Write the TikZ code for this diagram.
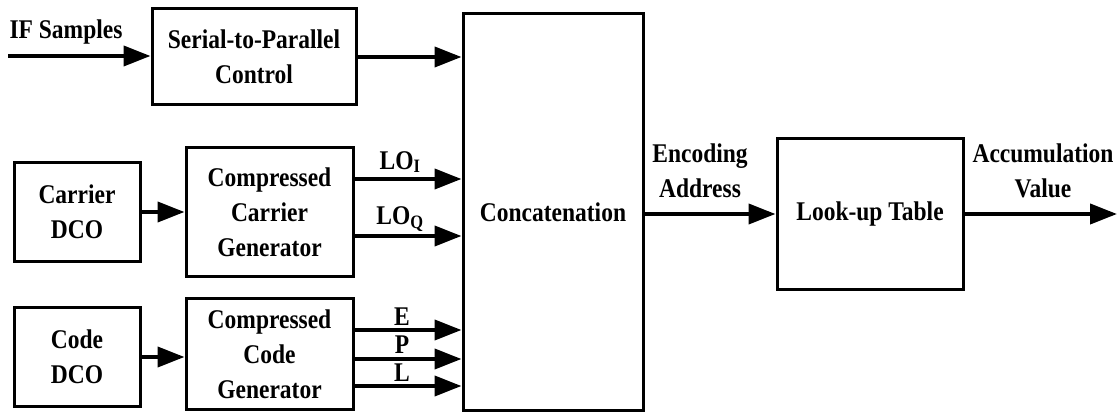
\documentclass[tikz,border=0pt]{standalone}
\usepackage{fontspec}
\setmainfont{Liberation Serif}[FakeStretch=0.87]
\usetikzlibrary{arrows.meta,positioning,calc}

\begin{document}
\begin{tikzpicture}[
  x=1pt, y=-1pt,
  font=\fontsize{27}{35}\selectfont\bfseries,
  blk/.style={
    draw=black,
    line width=3pt,
    align=center,
    inner sep=0pt
  },
  arr/.style={
    -{Triangle[length=27pt,width=20pt]},
    line width=4pt,
    draw=black
  },
  lbl/.style={
    align=center,
    inner sep=0pt
  }
]
\useasboundingbox (0,0) rectangle (1118,419);

% --- Blocks ---
\node[blk, minimum width=204pt, minimum height=96pt] (sp) at (254,57) {Serial-to-Parallel\\Control};
\node[blk, minimum width=180pt, minimum height=396pt] (concat) at (553,212) {Concatenation};
\node[blk, minimum width=186pt, minimum height=151pt] (lut) at (870,214) {Look-up Table};

\node[blk, minimum width=126pt, minimum height=99pt] (cdco) at (77,212) {Carrier\\DCO};
\node[blk, minimum width=167pt, minimum height=129pt] (ccg) at (269.5,212) {Compressed\\Carrier\\Generator};

\node[blk, minimum width=126pt, minimum height=98pt] (kdco) at (77,357) {Code\\DCO};
\node[blk, minimum width=167pt, minimum height=110pt] (kcg) at (269.5,354) {Compressed\\Code\\Generator};

% --- Input path ---
\coordinate (ifin) at (8,56);
\draw[arr] (ifin) -- (ifin -| sp.west);
\node[lbl] (iflbl) at (66,32) {IF Samples};
\draw[arr] (sp.east) -- (sp.east -| concat.west);

% --- Carrier path ---
\draw[arr] (cdco.east) -- (ccg.west);
\draw[arr] ([yshift=33pt]ccg.east) coordinate (loi) -- (loi -| concat.west);
\draw[arr] ([yshift=-24pt]ccg.east) coordinate (loq) -- (loq -| concat.west);
\node[lbl] (loilbl) at (400,162) {LO\textsubscript{I}};
\node[lbl] (loqlbl) at (400,219) {LO\textsubscript{Q}};

% --- Code path ---
\draw[arr] (kdco.east) -- (kdco.east -| kcg.west);
\draw[arr] ([yshift=24pt]kcg.east) coordinate (ce) -- (ce -| concat.west);
\draw[arr] ([yshift=-5pt]kcg.east) coordinate (cp) -- (cp -| concat.west);
\draw[arr] ([yshift=-32pt]kcg.east) coordinate (cl) -- (cl -| concat.west);
\node[lbl] (elbl) at (402,317) {E};
\node[lbl] (plbl) at (402,345) {P};
\node[lbl] (llbl) at (402,373) {L};

% --- Output path ---
\draw[arr] (concat.east |- lut.west) -- (lut.west);
\node[lbl] (enclbl) at (700,171) {Encoding\\Address};
\coordinate (accout) at (1117,214);
\draw[arr] (lut.east) -- (accout);
\node[lbl] (acclbl) at (1043,171) {Accumulation\\Value};

\end{tikzpicture}
\end{document}
